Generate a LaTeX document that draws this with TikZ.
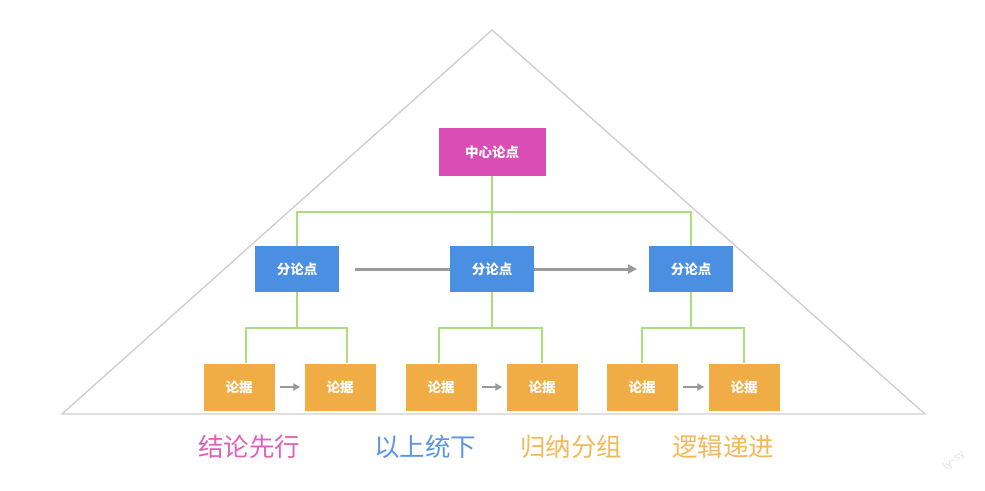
\documentclass[tikz,border=0pt]{standalone}
\usepackage{fontspec}
\setmainfont{Noto Sans CJK SC}
\newfontfamily\cjk{Noto Sans CJK SC}
\usetikzlibrary{arrows.meta}
\pgfdeclarelayer{bg}
\pgfsetlayers{bg,main}
\definecolor{cMag}{HTML}{D94DB4}
\definecolor{cBlue}{HTML}{4A8FE2}
\definecolor{cOrange}{HTML}{F0AD45}
\definecolor{cGreen}{HTML}{A9E07C}
\definecolor{cTri}{HTML}{CFCFCF}
\definecolor{cArrow}{HTML}{9A9A9A}
\definecolor{tMag}{HTML}{E060BA}
\definecolor{tBlue}{HTML}{5C95E2}
\definecolor{tOrange}{HTML}{F3B85A}
\tikzset{
  boxbase/.style={inner sep=0pt, text=white, font=\cjk\bfseries\fontsize{13.5}{15}\selectfont},
  centerbox/.style={boxbase, fill=cMag, minimum width=107pt, minimum height=48pt},
  midbox/.style={boxbase, fill=cBlue, minimum width=84pt, minimum height=46pt},
  leafbox/.style={boxbase, fill=cOrange, minimum width=71pt, minimum height=47pt},
  tree/.style={draw=cGreen, line width=1.6pt},
  flow/.style={draw=cArrow, line width=3pt, -{Triangle[length=9pt,width=9pt]}},
  smallflow/.style={draw=cArrow, line width=2.6pt, -{Triangle[length=7pt,width=7pt]}},
  caption/.style={font=\cjk\fontsize{25.5}{28}\selectfont, inner sep=0pt},
}
\begin{document}
\begin{tikzpicture}[x=1pt,y=-1pt]
\useasboundingbox (0,0) rectangle (985,490);
% triangle
\coordinate (apex) at (492,30);
\coordinate (bl) at (62,414);
\coordinate (br) at (925,414);
\draw[cTri, line width=1.4pt, line join=miter] (bl) -- (apex) -- (br) -- cycle;

% nodes
\node[centerbox] (c) at (492,152) {中心论点};
\node[midbox] (m1) at (297,269) {分论点};
\node[midbox] (m2) at (492,269) {分论点};
\node[midbox] (m3) at (691,269) {分论点};

\node[leafbox] (l1) at (239,387) {论据};
\node[leafbox] (l2) at (340,387) {论据};
\node[leafbox] (l3) at (441,387) {论据};
\node[leafbox] (l4) at (542,387) {论据};
\node[leafbox] (l5) at (642,387) {论据};
\node[leafbox] (l6) at (744,387) {论据};

\coordinate (j0) at (492,212);
\coordinate (a1) at (297,328);
\coordinate (a2) at (492,328);
\coordinate (a3) at (691,328);
\coordinate (fs) at (355,269);
\coordinate (fe) at (637,269);

\begin{pgfonlayer}{bg}
% green tree connectors
\draw[tree] (c.south) -- (j0);
\draw[tree] (m1.north) |- (j0) -| (m3.north);
\draw[tree] (j0) -- (m2.north);
\draw[tree] (m1.south) -- (a1);
\draw[tree] (m2.south) -- (a2);
\draw[tree] (m3.south) -- (a3);
\draw[tree] (l1.north -| 246,0) |- (a1) -| (l2.north -| 347,0);
\draw[tree] (l3.north -| 439,0) |- (a2) -| (l4.north -| 542,0);
\draw[tree] (l5.north -| 642,0) |- (a3) -| (l6.north -| 744,0);
% long flow arrow passing behind the middle box
\draw[flow] (fs) -- (fe);
\end{pgfonlayer}

% small flows
\draw[smallflow] ([xshift=5pt]l1.east) -- ([xshift=-4pt]l2.west);
\draw[smallflow] ([xshift=5pt]l3.east) -- ([xshift=-4pt]l4.west);
\draw[smallflow] ([xshift=5pt]l5.east) -- ([xshift=-4pt]l6.west);

% captions
\node[caption, text=tMag] (t1) at (249,447) {结论先行};
\node[caption, text=tBlue] (t2) at (425,447) {以上统下};
\node[caption, text=tOrange] (t3) at (571,447) {归纳分组};
\node[caption, text=tOrange] (t4) at (723,447) {逻辑递进};

% watermark
\node[text=black!12, font=\fontsize{10}{11}\selectfont, rotate=40, inner sep=0pt] (wm) at (954,461) {ly\textasciitilde sy};
\end{tikzpicture}
\end{document}
